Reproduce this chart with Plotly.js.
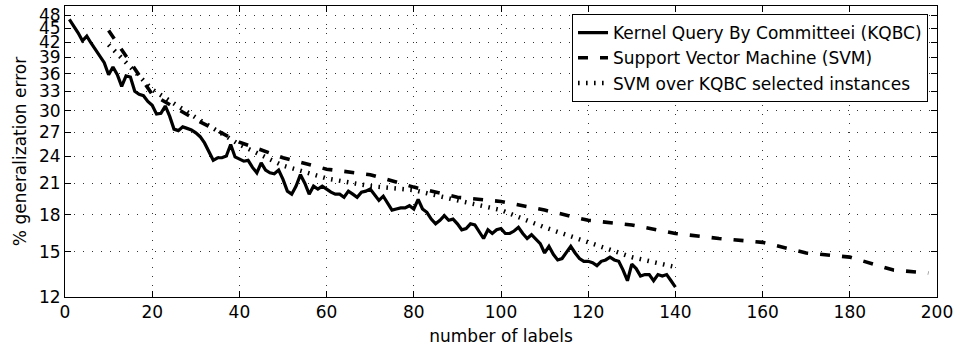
<!DOCTYPE html>
<html>
<head>
<meta charset="utf-8">
<script src="https://cdn.plot.ly/plotly-3.0.1.min.js"></script>
<style>html,body{margin:0;padding:0;background:#fff;}#chart{width:954px;height:347px;}</style>
</head>
<body>
<div id="chart"></div>
<script>
// KQBC: error after each number of labels, starting at 1 label
const kqbcStart = 1;
const kqbcValues = [
  47.0,45.5,44.0,42.3,43.3,41.8,40.4,39.3,38.0,35.8,
  37.2,35.8,33.8,35.6,35.4,33.0,32.5,32.3,31.4,30.8,
  29.5,29.6,30.7,29.2,27.4,27.2,27.7,27.5,27.3,26.9,
  26.4,25.6,24.5,23.5,23.8,23.8,24.0,25.4,23.9,23.6,
  23.4,23.5,22.7,22.1,23.2,22.4,22.1,22.0,22.4,21.4,
  20.2,19.9,20.7,21.9,21.0,19.9,20.7,20.4,20.7,20.4,
  20.1,19.9,19.9,19.6,20.2,19.9,19.6,20.1,20.2,20.4,
  19.8,19.3,19.7,19.0,18.4,18.5,18.6,18.6,18.8,18.5,
  19.4,18.5,18.2,17.6,17.2,17.5,17.9,17.5,17.6,17.2,
  16.7,16.8,17.2,17.1,16.5,16.0,16.7,16.4,16.7,16.8,
  16.4,16.4,16.6,16.9,16.4,16.0,16.3,15.9,15.6,14.9,
  15.4,14.8,14.4,14.5,14.9,15.4,14.9,14.5,14.3,14.3,
  14.2,14.0,14.3,14.4,14.6,14.4,14.3,13.7,13.0,14.1,
  13.8,13.3,13.4,13.4,13.0,13.4,13.3,13.4,13.0,12.6
];
const kqbcLabels = kqbcValues.map((_, i) => kqbcStart + i);

const svmLabels = [10,20,30,40,50,60,70,80,90,100,110,120,130,140,150,160,170,180,190,198];
const svmValues = [44.5,32.5,28.7,25.7,23.8,22.5,21.9,20.6,19.6,19.2,18.4,17.5,17.1,16.4,16.0,15.7,14.9,14.6,13.7,13.5];

const svmKqbcLabels = [10,20,30,40,50,60,70,80,90,100,110,120,130,140];
const svmKqbcValues = [41.5,33.3,29.0,25.4,22.9,21.5,20.7,20.3,19.3,18.4,16.9,15.7,14.6,13.9];

const xTicks = [0,20,40,60,80,100,120,140,160,180,200];
const yTicks = [12,15,18,21,24,27,30,33,36,39,42,45,48];

const FONT = 'DejaVu Sans, Liberation Sans, Arial, sans-serif';

const traces = [
  {x: kqbcLabels, y: kqbcValues, type: 'scatter', mode: 'lines',
   name: 'Kernel Query By Committeei (KQBC)',
   line: {color: '#000', width: 3.2}},
  {x: svmLabels, y: svmValues, type: 'scatter', mode: 'lines',
   name: 'Support Vector Machine (SVM)',
   line: {color: '#000', width: 3.6, dash: '10px,12px'}},
  {x: svmKqbcLabels, y: svmKqbcValues, type: 'scatter', mode: 'lines',
   name: 'SVM over KQBC selected instances',
   line: {color: '#000', width: 4.5, dash: '1.6px,6.4px'}}
];

const axisCommon = {
  showline: true, linecolor: '#000', linewidth: 1, mirror: 'ticks',
  ticks: 'inside', ticklen: 6, tickwidth: 1, tickcolor: '#000',
  showgrid: true, gridcolor: '#333', gridwidth: 1, griddash: '1px,8px',
  zeroline: false,
  tickfont: {family: FONT, size: 17, color: '#000'}
};

const layout = {
  width: 954, height: 347,
  margin: {l: 65, r: 17, t: 6, b: 50},
  paper_bgcolor: '#fff', plot_bgcolor: '#fff',
  font: {family: FONT, size: 17, color: '#000'},
  showlegend: true,
  legend: {
    x: 0.9897, xanchor: 'right', y: 0.972, yanchor: 'top',
    bgcolor: '#fff', bordercolor: '#000', borderwidth: 1,
    font: {family: FONT, size: 17, color: '#000'},
    tracegroupgap: 0
  },
  xaxis: Object.assign({}, axisCommon, {
    range: [0, 200], tickmode: 'array', tickvals: xTicks,
    title: {text: 'number of labels', standoff: 8, font: {family: FONT, size: 17, color: '#000'}}
  }),
  yaxis: Object.assign({}, axisCommon, {
    type: 'log', range: [Math.log10(12), Math.log10(50.2)],
    tickmode: 'array', tickvals: yTicks, ticktext: yTicks.map(String),
    title: {text: '% generalization error', standoff: 8, font: {family: FONT, size: 17, color: '#000'}}
  })
};

Plotly.newPlot('chart', traces, layout, {staticPlot: true, displayModeBar: false});
</script>
</body>
</html>
